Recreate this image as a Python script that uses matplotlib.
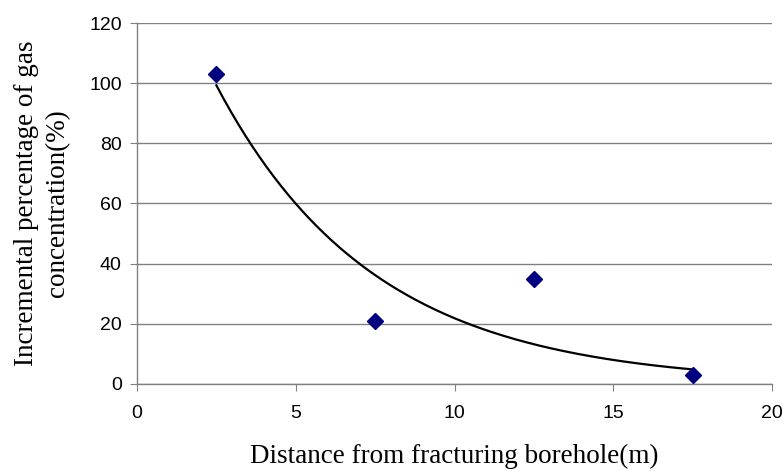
import matplotlib as mpl
mpl.use('Agg')
import matplotlib.pyplot as plt
import numpy as np

# measured distance from fracturing borehole (m) and gas concentration increase (%)
distance = [2.5, 7.5, 12.5, 17.5]
increment = [103, 21, 35, 3]

x_ticks = [0, 5, 10, 15, 20]
y_ticks = [0, 20, 40, 60, 80, 100, 120]

# exponential trendline fitted on log(y)
k, b = np.polyfit(distance, np.log(increment), 1)
xf = np.linspace(min(distance), max(distance), 200)
yf = np.exp(b + k * xf)

fig = plt.figure(figsize=(7.83, 4.71), dpi=100)
ax = fig.add_axes([0.175, 0.185, 0.811, 0.766])

ax.plot(xf, yf, color='black', lw=1.6, zorder=3)
ax.plot(distance, increment, 'D', color='#000080', ms=8.5, zorder=4)

ax.set_xlim(0, 20)
ax.set_ylim(0, 120)
ax.set_xticks(x_ticks)
ax.set_yticks(y_ticks)
ax.yaxis.grid(True, color='#808080', lw=1)
ax.set_axisbelow(True)

for s in ['top', 'right']:
    ax.spines[s].set_visible(False)
for s in ['left', 'bottom']:
    ax.spines[s].set_color('#808080')
    ax.spines[s].set_linewidth(1)

ax.tick_params(direction='out', length=5, color='#808080', labelsize=14,
               pad=6)
for lab in ax.get_xticklabels() + ax.get_yticklabels():
    lab.set_fontfamily('Liberation Sans')
ax.tick_params(axis='x', pad=10)

ax.set_xlabel('Distance from fracturing borehole(m)', fontsize=19.5,
              family='Liberation Serif', labelpad=16)
ax.set_ylabel('Incremental percentage of gas\nconcentration(%)', fontsize=19.5,
              family='Liberation Serif', linespacing=1.3)
ax.yaxis.set_label_coords(-0.106, 0.5)

plt.savefig('out.png', dpi=100)
plt.close()
